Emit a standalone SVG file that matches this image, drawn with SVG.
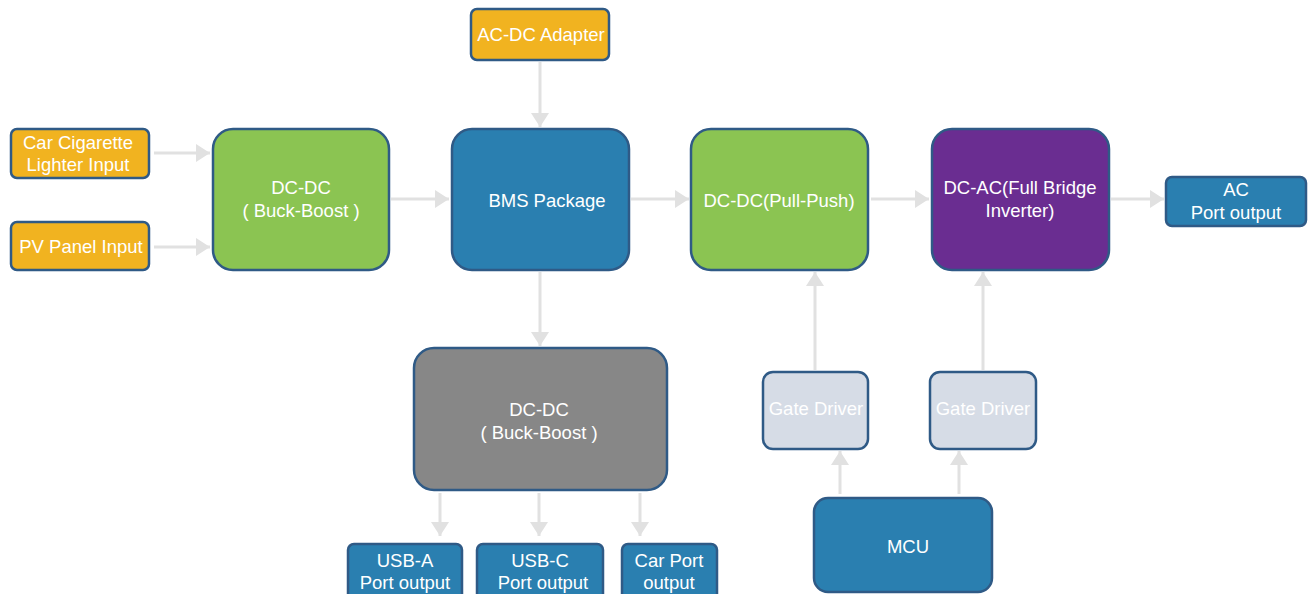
<svg xmlns="http://www.w3.org/2000/svg" width="1311" height="594" viewBox="0 0 1311 594">
<defs>
<style>
.n{stroke:#2f5a86;stroke-width:2.5}
.or{fill:#f1b320}
.gr{fill:#8bc452}
.bl{fill:#2a7fb0}
.pu{fill:#6a2d91}
.gy{fill:#878787}
.lt{fill:#d6dce6}
text{font-family:"Liberation Sans",Arial,sans-serif;font-size:18.5px;fill:#fff;text-anchor:middle}
.c line{stroke:#e1e1e1;stroke-width:3;marker-end:url(#ah)}
</style>
<marker id="ah" markerUnits="userSpaceOnUse" viewBox="0 0 14 18" refX="14" refY="9" markerWidth="14" markerHeight="18" orient="auto">
<path d="M0,0 L14,9 L0,18 Z" fill="#e1e1e1"/>
</marker>
</defs>
<rect width="1311" height="594" fill="#fff"/>
<g class="c" id="connectors">
<line x1="154" y1="153" x2="210" y2="153"/>
<line x1="154" y1="247" x2="210" y2="247"/>
<line x1="391" y1="199" x2="449" y2="199"/>
<line x1="540" y1="62" x2="540" y2="127"/>
<line x1="631" y1="199" x2="689" y2="199"/>
<line x1="871" y1="199" x2="929" y2="199"/>
<line x1="1111" y1="199" x2="1164" y2="199"/>
<line x1="540" y1="272" x2="540" y2="346"/>
<line x1="440" y1="493" x2="440" y2="536"/>
<line x1="539" y1="493" x2="539" y2="536"/>
<line x1="640" y1="493" x2="640" y2="536"/>
<line x1="815" y1="370" x2="815" y2="272"/>
<line x1="983" y1="370" x2="983" y2="272"/>
<line x1="840" y1="494" x2="840" y2="451"/>
<line x1="959" y1="494" x2="959" y2="451"/>
</g>
<g id="adapter"><rect class="n or" x="471" y="9" width="138" height="51" rx="6"/><text x="541" y="41">AC-DC Adapter</text></g>
<g id="car"><rect class="n or" x="11" y="129" width="138" height="49" rx="6"/><text x="78" y="149">Car Cigarette</text><text x="78" y="171">Lighter Input</text></g>
<g id="pv"><rect class="n or" x="11" y="222" width="138" height="48" rx="6"/><text x="81" y="253">PV Panel Input</text></g>
<g id="dcdc1"><rect class="n gr" x="213" y="129" width="176" height="141" rx="20"/><text x="301" y="194">DC-DC</text><text x="301" y="217">( Buck-Boost )</text></g>
<g id="bms"><rect class="n bl" x="452" y="129" width="177" height="141" rx="20"/><text x="547" y="207">BMS Package</text></g>
<g id="dcdc2"><rect class="n gr" x="691" y="129" width="177" height="141" rx="20"/><text x="779" y="207">DC-DC(Pull-Push)</text></g>
<g id="dcac"><rect class="n pu" x="932" y="129" width="177" height="141" rx="20"/><text x="1020" y="194">DC-AC(Full Bridge</text><text x="1020" y="217">Inverter)</text></g>
<g id="acout"><rect class="n bl" x="1166" y="177" width="140" height="49" rx="6"/><text x="1236" y="196">AC</text><text x="1236" y="219">Port output</text></g>
<g id="dcdc3"><rect class="n gy" x="414" y="348" width="253" height="142" rx="20"/><text x="539" y="416">DC-DC</text><text x="539" y="439">( Buck-Boost )</text></g>
<g id="usba"><rect class="n bl" x="348" y="544" width="114" height="56" rx="6"/><text x="405" y="567">USB-A</text><text x="405" y="589">Port output</text></g>
<g id="usbc"><rect class="n bl" x="477" y="544" width="126" height="56" rx="6"/><text x="540" y="567">USB-C</text><text x="543" y="589">Port output</text></g>
<g id="carport"><rect class="n bl" x="622" y="544" width="95" height="56" rx="6"/><text x="669" y="567">Car Port</text><text x="669" y="589">output</text></g>
<g id="gd1"><rect class="n lt" x="763" y="372" width="105" height="77" rx="10"/><text x="816" y="415">Gate Driver</text></g>
<g id="gd2"><rect class="n lt" x="930" y="372" width="106" height="77" rx="10"/><text x="983" y="415">Gate Driver</text></g>
<g id="mcu"><rect class="n bl" x="814" y="498" width="178" height="94" rx="14"/><text x="908" y="553">MCU</text></g>
</svg>
